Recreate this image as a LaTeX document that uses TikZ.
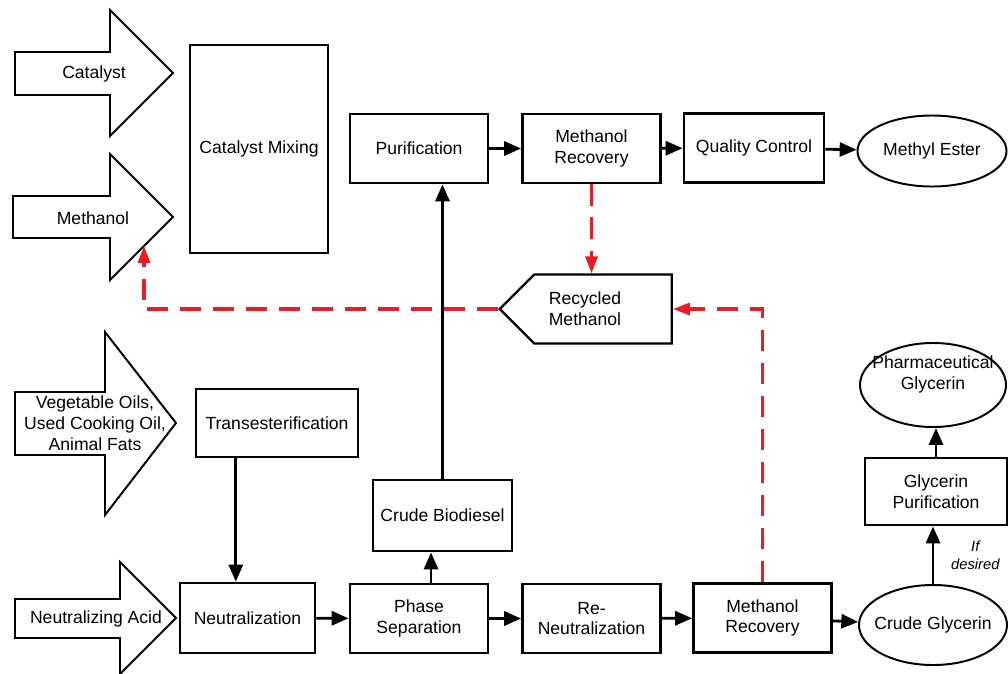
\documentclass[tikz,border=0pt]{standalone}
\usepackage{fontspec}
\setmainfont{Liberation Sans}
\usetikzlibrary{arrows.meta,shapes.geometric,shapes.symbols}
\definecolor{recyclered}{RGB}{237,28,36}

\begin{document}
\begin{tikzpicture}[x=0.025cm,y=-0.025cm,
    font=\fontsize{12.5}{14.8}\selectfont,
    >={Triangle[length=12pt,width=10pt]},
    process/.style={draw,line width=2pt,fill=white,align=center,
                    minimum width=3.45cm,minimum height=1.725cm},
    product/.style={draw,ellipse,line width=1.4pt,fill=white,align=center,
                    inner xsep=-0.3cm,inner ysep=0pt},
    feed/.style={draw,line width=1.4pt,fill=white,line join=miter},
    flow/.style={->,line width=2pt},
    recycle/.style={->,>={Triangle[length=12pt,width=8.5pt]},draw=recyclered,
                    line width=2.2pt,dash pattern=on 15pt off 8.5pt}]
  \useasboundingbox (0,0) rectangle (1008,673);

  % feed streams
  \draw[feed] (15,52) -- (110,52) -- (110,10) -- (173,73) -- (110,136) -- (110,95) -- (15,95) -- cycle;
  \node (catalyst) at (94,74) {Catalyst};
  \draw[feed] (13,196) -- (110,196) -- (110,154) -- (173,217) -- (110,280) -- (110,238) -- (13,238) -- cycle;
  \node (methanol) at (93,218) {Methanol};
  \coordinate (methin) at (144,246);
  \draw[feed] (15,392) -- (105,392) -- (105,332) -- (176,423) -- (105,515) -- (105,455) -- (15,455) -- cycle;
  \node[align=center] (oils) at (95,423) {Vegetable Oils,\\Used Cooking Oil,\\Animal Fats};
  \draw[feed] (15,599) -- (120,599) -- (120,562) -- (176,618) -- (120,674) -- (120,638) -- (15,638) -- cycle;
  \node (acid) at (96,619) {Neutralizing Acid};

  % process steps
  \node[process,minimum height=5.2cm] (mix) at (259,149) {Catalyst Mixing};
  \node[process,minimum width=4.05cm,minimum height=1.7cm] (trans) at (277,423) {Transesterification};
  \node[process,minimum width=3.375cm,minimum height=1.75cm] (neut) at (247.5,618) {Neutralization};
  \node[process] (phase) at (419,618.5) {Phase\\Separation};
  \node[process] (reneut) at (591.5,618.5) {Re-\\Neutralization};
  \node[process] (mrecB) at (762.5,618) {Methanol\\Recovery};
  \node[process,minimum width=3.475cm,minimum height=1.775cm] (biod) at (442.5,515.5) {Crude Biodiesel};
  \node[process] (pur) at (419,148.5) {Purification};
  \node[process] (mrecA) at (591.5,148.5) {Methanol\\Recovery};
  \node[process,minimum width=3.5cm] (qc) at (754,148) {Quality Control};
  \node[process,minimum width=3.55cm,minimum height=1.675cm] (gpur) at (936,491.5) {Glycerin\\Purification};

  % products
  \node[product,minimum width=3.725cm,minimum height=1.775cm] (ester) at (932,151) {Methyl Ester};
  \node[product,minimum width=3.7cm,minimum height=2cm] (cglyc) at (933,625) {Crude Glycerin};
  \node[product,minimum width=3.65cm,minimum height=2.1cm,
        label={[align=center,yshift=0.27cm]center:Pharmaceutical\\Glycerin}] (pglyc) at (933,385) {};

  % recycled methanol
  \node[draw,signal,signal to=west,signal from=nowhere,signal pointer angle=90,
        line width=1.6pt,fill=white,minimum width=4.3cm,minimum height=1.725cm,
        label={[align=center,xshift=-0.45cm]center:Recycled\\Methanol}] (recyc) at (603,309) {};

  % main flow
  \draw[flow] ([xshift=-1.03cm]trans.south) -- ([xshift=-1.03cm]trans.south |- neut.north);
  \draw[flow] (neut) -- (phase);
  \draw[flow] ([xshift=0.3cm]phase.north) -- ([xshift=0.3cm]phase.north |- biod.south);
  \draw[flow] (biod.north) -- (biod.north |- pur.south);
  \draw[flow] (pur) -- (mrecA);
  \draw[flow] (mrecA) -- (qc);
  \draw[flow] (qc) -- (ester);
  \draw[flow] (phase) -- (reneut);
  \draw[flow] (reneut) -- (mrecB);
  \draw[flow] (mrecB) -- (cglyc);
  \draw[flow] (cglyc.north) -- node[right=0.3cm,align=center,
        font=\fontsize{10.5}{13.5}\selectfont\itshape] {If\\desired} (cglyc.north |- gpur.south);
  \draw[flow] (gpur.north) -- (gpur.north |- pglyc.south);

  % methanol recycle
  \draw[recycle] (mrecA.south) -- (mrecA.south |- recyc.north);
  \draw[recycle] (mrecB.north) |- (recyc.east);
  \draw[recycle] (recyc.west) -- (methin |- recyc.west) -- (methin);
\end{tikzpicture}
\end{document}
